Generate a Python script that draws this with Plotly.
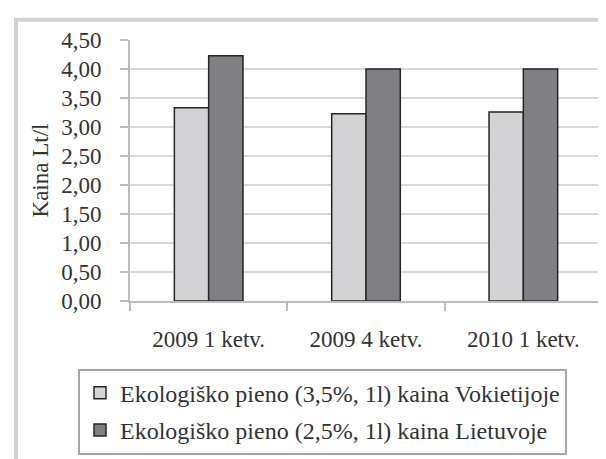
import plotly.graph_objects as go

categories = ["2009 1 ketv.", "2009 4 ketv.", "2010 1 ketv."]
germany = [3.33, 3.23, 3.26]
lithuania = [4.23, 4.00, 4.00]
series_names = [
    "Ekologiško pieno (3,5%, 1l) kaina Vokietijoje",
    "Ekologiško pieno (2,5%, 1l) kaina Lietuvoje",
]
y_ticks = [0, 0.5, 1, 1.5, 2, 2.5, 3, 3.5, 4, 4.5]

W, H = 606, 459
L, R, T, B = 122, 12, 32, 157
pw, ph = W - L - R, H - T - B


def px_x(x):
    return (x - L) / pw


def px_y(y):
    return (H - B - y) / ph


FONT = "Liberation Serif, Times New Roman, serif"
TXT = "#333333"
AXIS = "#bdbdbd"

fig = go.Figure()
fig.add_trace(go.Bar(
    x=categories, y=germany, name=series_names[0],
    marker=dict(color="#d3d3d5", line=dict(color="#262626", width=1.5)),
    legendgroup="a",
))
fig.add_trace(go.Bar(
    x=categories, y=lithuania, name=series_names[1],
    marker=dict(color="#808084", line=dict(color="#262626", width=1.5)),
    legendgroup="b",
))

# outer frame (scanned chart border): thick left/top, thin right
fig.add_shape(
    type="path", xref="paper", yref="paper",
    path=f"M {px_x(8)},{px_y(470)} L {px_x(8)},{px_y(11)} L {px_x(604)},{px_y(11)}",
    line=dict(color="#d2d2d2", width=4),
)
fig.add_shape(
    type="line", xref="paper", yref="paper",
    x0=px_x(604.5), x1=px_x(604.5), y0=px_y(9), y1=px_y(470),
    line=dict(color="#dcdcdc", width=2),
)

fig.update_layout(
    width=W, height=H,
    margin=dict(l=L, r=R, t=T, b=B),
    paper_bgcolor="white", plot_bgcolor="white",
    separators=", ",
    font=dict(family=FONT, size=23, color=TXT),
    barmode="group", bargap=0.564, bargroupgap=0,
    legend=dict(
        x=px_x(70), y=px_y(372), xanchor="left", yanchor="top",
        bordercolor="#a8a8a8", borderwidth=2,
        font=dict(family=FONT, size=24, color=TXT),
        traceorder="grouped", tracegroupgap=3,
        itemwidth=30,
    ),
    showlegend=True,
)
fig.update_xaxes(
    showline=True, linecolor=AXIS, linewidth=2,
    ticks="outside", tickson="boundaries", ticklen=8, tickcolor=AXIS, tickwidth=2,
    ticklabelstandoff=16,
    tickfont=dict(size=23, color=TXT),
)
fig.update_yaxes(
    range=[0, 4.5], tickvals=y_ticks, tickformat=".2f",
    showline=True, linecolor=AXIS, linewidth=2,
    ticks="outside", ticklen=8, tickcolor=AXIS, tickwidth=2,
    ticklabelstandoff=14,
    gridcolor="#d9d9d9", gridwidth=2,
    tickfont=dict(size=23, color=TXT),
    title=dict(text="Kaina Lt/l", font=dict(size=23, color=TXT), standoff=6),
)

fig.write_html("out.html")
